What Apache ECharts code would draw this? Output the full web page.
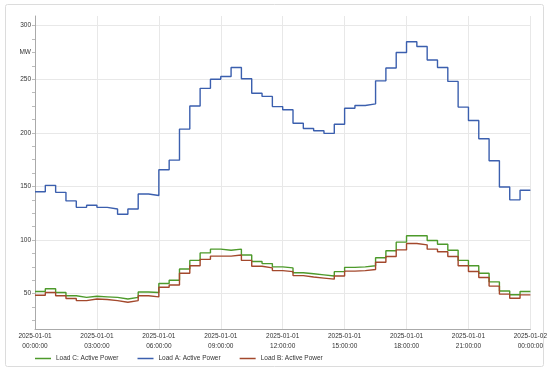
<!DOCTYPE html>
<html>
<head>
<meta charset="utf-8">
<script src="https://cdn.jsdelivr.net/npm/echarts@6/dist/echarts.min.js"></script>
<style>
html,body{margin:0;padding:0;background:#fff;}
#chart{width:550px;height:374px;}
</style>
</head>
<body>
<div id="chart"></div>
<script>
// Half-hour slots from 00:00 to 24:00 (hours)
var slotHours = [0,0.5,1,1.5,2,2.5,3,3.5,4,4.5,5,5.5,6,6.5,7,7.5,8,8.5,9,9.5,10,10.5,11,11.5,12,12.5,13,13.5,14,14.5,15,15.5,16,16.5,17,17.5,18,18.5,19,19.5,20,20.5,21,21.5,22,22.5,23,23.5,24];

var loadA = [145,151,144.5,136.5,130.5,132.5,130.5,129,124,129,143,141.5,165.5,174.5,203.5,225,241.5,250,252.5,261,250.5,237,234,224.5,221.5,209,204,202,199.5,208,223,225.5,227,248.5,260.5,275,285,280.5,268,261,248,224,211.5,194.5,174,149.5,137.5,146.5];
var loadB = [48.5,51,48,45.5,43.5,45,44.5,43.5,42,43.5,48,47,56,58,69,76,82,85,85,86,81,75.5,74,71.5,70.5,66.8,65.5,64.5,63.5,66.5,71,71.5,72.5,79.3,84.6,90.8,96.7,95.5,91.5,89,84.6,76,70.6,65,57,49.5,45.7,48.8];
var loadC = [52,54.5,51,48,46.5,47.5,47,46.5,45,46.5,51.5,51,59.5,62.5,73,81,88,91.5,90.5,91.5,86,80,78,75,74,69.5,68.5,67.5,66.5,70.5,74.5,75,76,83.5,90,98,104,104,99.5,96,90.5,81,76,69,61,52.5,49,52];

var seriesNames = ['Load C: Active Power','Load A: Active Power','Load B: Active Power'];
var xTickHours = [0,3,6,9,12,15,18,21,24];
var xTickLabels = ['2025-01-01\n00:00:00','2025-01-01\n03:00:00','2025-01-01\n06:00:00','2025-01-01\n09:00:00','2025-01-01\n12:00:00','2025-01-01\n15:00:00','2025-01-01\n18:00:00','2025-01-01\n21:00:00','2025-01-02\n00:00:00'];
var yLabelValues = [50,100,150,200,250,275,300];
var yLabelTexts = ['50','100','150','200','250','MW','300'];
var yGridValues = [50,100,150,200,250,300];
var yMinorTicks = [25,37.5,50,62.5,75,87.5,100,112.5,125,137.5,150,162.5,175,187.5,200,212.5,225,237.5,250,262.5,275,287.5,300];

function toPairs(vals){
  var out = [];
  for (var i = 0; i < vals.length; i++) out.push([slotHours[i], vals[i]]);
  out.push([slotHours[vals.length], vals[vals.length-1]]);
  return out;
}

var chart = echarts.init(document.getElementById('chart'), null, {renderer:'canvas'});
var font = 'Liberation Sans, Arial, sans-serif';
var option = {
  animation: false,
  backgroundColor: '#fff',
  textStyle: {fontFamily: font},
  graphic: [{
    type: 'rect', silent: true, z: -10,
    shape: {x: 5.5, y: 4.5, width: 538, height: 362, r: 2},
    style: {fill: 'none', stroke: '#dcdcdc', lineWidth: 1}
  }],
  grid: {left: 35, right: 19, top: 16, bottom: 45},
  legend: {
    left: 30, top: 350,
    icon: 'rect', itemWidth: 16, itemHeight: 1.5, itemGap: 19,
    textStyle: {fontSize: 6.5, color: '#333', fontFamily: font},
    data: seriesNames
  },
  xAxis: {
    type: 'value', min: 0, max: 24, interval: 3,
    axisLine: {show: true, lineStyle: {color: '#aaa'}},
    axisTick: {show: false},
    splitLine: {show: true, lineStyle: {color: '#e8e8e8', width: 1}},
    axisLabel: {
      fontSize: 6.5, color: '#333', lineHeight: 10, margin: 2, fontFamily: font,
      formatter: function(v){ var i = xTickHours.indexOf(v); return i >= 0 ? xTickLabels[i] : ''; }
    }
  },
  yAxis: [{
    type: 'value', min: 17, max: 309,
    axisLine: {show: true, lineStyle: {color: '#aaa'}},
    axisTick: {show: true, length: 3, lineStyle: {color: '#bbb'}, customValues: yMinorTicks},
    splitLine: {show: false},
    axisLabel: {
      fontSize: 6.5, color: '#333', margin: 4, fontFamily: font,
      customValues: yLabelValues,
      formatter: function(v){ var i = yLabelValues.indexOf(v); return i >= 0 ? yLabelTexts[i] : ''; }
    }
  },{
    type: 'value', min: 17, max: 309, position: 'left',
    axisLine: {show: false},
    axisTick: {show: false, customValues: yGridValues},
    axisLabel: {show: false},
    splitLine: {show: true, lineStyle: {color: '#e8e8e8', width: 1}}
  }],
  series: [{
    name: seriesNames[0], type: 'line', step: 'end', data: toPairs(loadC),
    showSymbol: false, lineStyle: {width: 1.4, color: '#4d9a2b'}, itemStyle: {color: '#4d9a2b'}
  },{
    name: seriesNames[1], type: 'line', step: 'end', data: toPairs(loadA),
    showSymbol: false, lineStyle: {width: 1.4, color: '#3b5fae'}, itemStyle: {color: '#3b5fae'}
  },{
    name: seriesNames[2], type: 'line', step: 'end', data: toPairs(loadB),
    showSymbol: false, lineStyle: {width: 1.4, color: '#a3482c'}, itemStyle: {color: '#a3482c'}
  }]
};
chart.setOption(option);
</script>
</body>
</html>
